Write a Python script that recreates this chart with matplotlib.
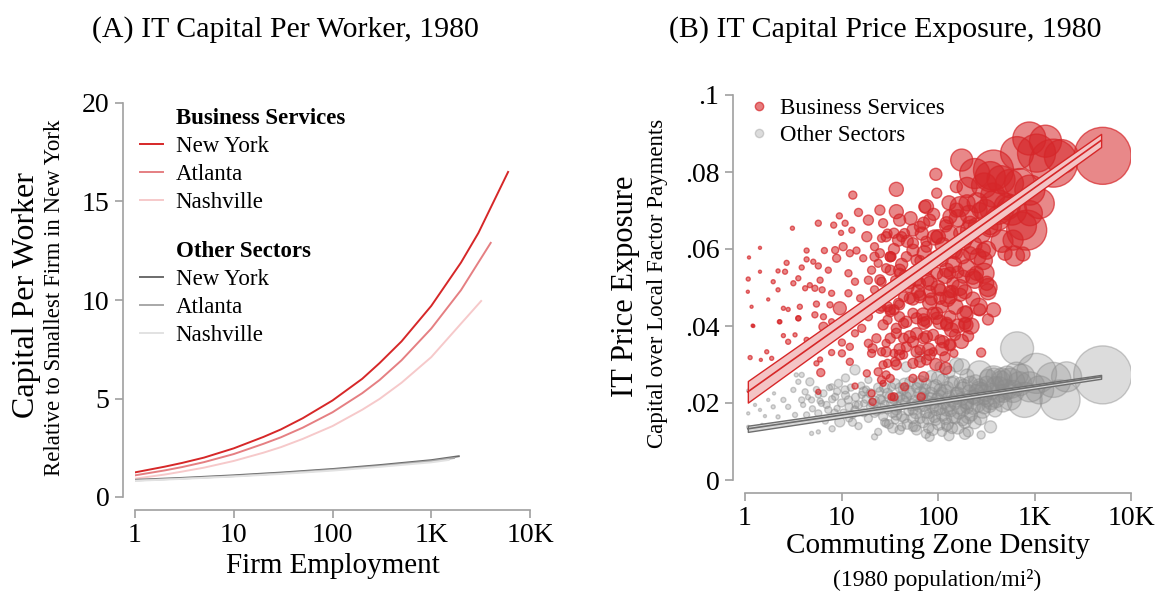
import numpy as np
import matplotlib
matplotlib.use("Agg")
import matplotlib.pyplot as plt
from matplotlib.lines import Line2D

plt.rcParams['font.family'] = ['Liberation Serif', 'DejaVu Serif']

# ---- Panel A: capital per worker by firm size ----
bs_ny_x = [1, 2, 3, 5, 10, 20, 30, 50, 100, 200, 300, 500, 1000, 2000, 3000, 6000]
bs_ny_y = [1.25, 1.54, 1.73, 2.0, 2.47, 3.05, 3.43, 4.0, 4.9, 6.0, 6.8, 7.9, 9.7, 11.9, 13.4, 16.5]
bs_atl_x = [1, 2, 3, 5, 10, 20, 30, 50, 100, 200, 300, 500, 1000, 2000, 4000]
bs_atl_y = [1.1, 1.35, 1.52, 1.77, 2.18, 2.7, 3.03, 3.52, 4.3, 5.27, 5.94, 6.94, 8.55, 10.5, 12.9]
bs_nash_x = [1, 2, 3, 5, 10, 20, 30, 50, 100, 200, 300, 500, 1000, 2000, 3200]
bs_nash_y = [0.93, 1.14, 1.29, 1.49, 1.83, 2.25, 2.53, 2.95, 3.6, 4.43, 4.98, 5.8, 7.1, 8.8, 9.95]
os_ny_x = [1, 3, 10, 30, 100, 300, 1000, 1900]
os_ny_y = [0.87, 0.97, 1.1, 1.24, 1.42, 1.62, 1.87, 2.07]
os_atl_x = [1, 3, 10, 30, 100, 300, 1000, 1700]
os_atl_y = [0.84, 0.94, 1.06, 1.2, 1.38, 1.57, 1.82, 1.98]
os_nash_x = [1, 3, 10, 30, 100, 300, 1000, 1500]
os_nash_y = [0.82, 0.92, 1.04, 1.17, 1.34, 1.53, 1.76, 1.88]

# ---- Panel B: IT price exposure by commuting zone density ----
bs_density = [3.1, 1.43, 1.1, 1.08, 1.07, 1.17, 1.2, 1.43, 1.74, 1.96, 2.2, 2.2, 2.6, 2.7, 2.5, 2.27, 2.8, 3.17,
              3.57, 3.87, 4.35, 4.35, 5.1, 4.7, 4.2, 3.57, 3.7, 5.3, 5.75, 6.65, 5.75, 8.3, 9.5, 10.9, 9.9, 12.8,
              13.1, 8.6, 8.9, 10.4, 12.2, 14.3, 16.8, 7.3, 6.0, 6.3, 7.9, 9.6, 7.6, 11.8, 13.8, 19, 11.8, 15.6,
              18.3, 19, 25, 15, 26, 22, 30, 39, 37, 37, 24, 20.5, 29, 33, 26, 36, 22, 33, 26, 39, 19, 30, 12.8,
              6.5, 5.5,
              1.22, 1.13, 1.46, 1.68, 1.89, 2.3, 2.5, 2.8, 3.3, 3.57, 4.35, 5.3, 6.5, 7.9, 6.2, 5.5, 6.0, 6.1,
              7.9, 10.1, 10.1, 12.2, 12.2, 13.8, 16.2, 18.3, 24, 19, 20.5, 26, 30, 26, 32, 36, 20.5, 21, 13.8,
              5.75, 33,
              884, 1570, 1050, 660, 376, 348, 240, 176, 407, 895, 830, 895, 580, 600, 620, 495, 320, 300,
              330, 376, 330, 270, 195, 190, 230, 190, 95, 97, 155, 170, 133, 76, 71, 101, 218, 143, 123, 83, 55,
              55, 40, 29, 32, 40, 60, 83, 105, 133, 65, 44, 35, 55, 89, 133, 44, 71, 1120, 760,
              195, 150, 205, 133, 146, 118, 280, 89, 76, 55, 44, 35, 27, 71, 55, 45, 35, 67, 27, 29, 32, 40,
              71, 97, 123, 37, 51, 76, 105, 29, 47, 65,
              150, 120, 180, 250, 200, 160, 110, 85, 110, 140, 230, 260, 75, 65, 90, 130, 45, 50, 200,
              300, 450, 200,
              73, 82, 65, 97, 123, 155, 170, 215, 270, 345, 295, 215, 155, 123, 97, 76, 55, 47, 60, 76, 97, 133,
              183, 250, 40, 32, 32, 25, 42, 35, 27, 51, 65, 143, 320,
              25, 32, 40, 51, 65, 82, 105, 133, 170, 27, 37, 47, 60, 76, 97, 123, 23, 32, 44, 55, 71, 89, 113,
              133, 21, 29, 40, 60, 82, 65, 37]
bs_exposure = [0.0654, 0.0603, 0.0578, 0.0522, 0.0489, 0.045, 0.0401, 0.0541, 0.0469, 0.0515, 0.0543, 0.0494,
               0.0541, 0.0564, 0.0446, 0.0411, 0.0443, 0.0511, 0.0524, 0.0552, 0.0573, 0.0596, 0.0567, 0.0506,
               0.0498, 0.042, 0.045, 0.0498, 0.0556, 0.0596, 0.0667, 0.0662, 0.0686, 0.0667, 0.0642, 0.0649,
               0.074, 0.0597, 0.0576, 0.0606, 0.0589, 0.0596, 0.0576, 0.0545, 0.0519, 0.0494, 0.0485, 0.0446,
               0.0455, 0.0537, 0.0515, 0.0519, 0.0485, 0.0472, 0.0632, 0.0675, 0.0701, 0.0695, 0.0628, 0.0606,
               0.064, 0.0623, 0.0697, 0.0755, 0.0563, 0.0545, 0.055, 0.058, 0.0515, 0.0519, 0.0494, 0.0485,
               0.045, 0.0459, 0.0424, 0.0416, 0.0416, 0.0424, 0.0457,
               0.04, 0.0318, 0.0312, 0.0333, 0.0316, 0.0411, 0.0375, 0.0359, 0.0377, 0.042, 0.0364, 0.0429,
               0.0398, 0.0411, 0.0355, 0.0303, 0.0313, 0.0279, 0.0331, 0.0357, 0.0329, 0.0307, 0.0346, 0.0381,
               0.0394, 0.0277, 0.0281, 0.0355, 0.0329, 0.0333, 0.0303, 0.026, 0.0264, 0.0307, 0.0225, 0.0203,
               0.0244, 0.0229, 0.0216,
               0.0887, 0.0823, 0.0849, 0.0849, 0.0805, 0.0788, 0.0796, 0.0831, 0.0709, 0.0753, 0.0649,
               0.0693, 0.0701, 0.0623, 0.0582, 0.0589, 0.0597, 0.0537, 0.0489, 0.0442, 0.0417, 0.0442, 0.0437,
               0.0407, 0.0528, 0.0489, 0.0794, 0.0745, 0.0762, 0.071, 0.0684, 0.071, 0.0667, 0.0632, 0.0649,
               0.0597, 0.0545, 0.0563, 0.0597, 0.0649, 0.0675, 0.0632, 0.058, 0.0545, 0.0519, 0.0511, 0.0494,
               0.0476, 0.0476, 0.0476, 0.0442, 0.0433, 0.0433, 0.0424, 0.0407, 0.0407, 0.0718, 0.0587,
               0.0403, 0.0377, 0.0374, 0.0351, 0.0329, 0.032, 0.0331, 0.0333, 0.0312, 0.0303, 0.0325, 0.0329,
               0.0299, 0.0268, 0.0264, 0.0242, 0.0216, 0.0216, 0.0251, 0.0273, 0.0442, 0.0424, 0.0416, 0.0433,
               0.0407, 0.0381, 0.0372, 0.0372, 0.0364, 0.0355, 0.0346, 0.0338,
               0.061, 0.066, 0.058, 0.066, 0.063, 0.054, 0.057, 0.047, 0.045, 0.049, 0.047, 0.058, 0.062,
               0.057, 0.069, 0.072, 0.064, 0.05, 0.072,
               0.0765, 0.078, 0.076,
               0.071, 0.0675, 0.0658, 0.0632, 0.0667, 0.0701, 0.0641, 0.0667, 0.0701, 0.0658, 0.0597, 0.0589,
               0.0589, 0.0589, 0.058, 0.0606, 0.0615, 0.058, 0.0571, 0.0545, 0.0537, 0.0537, 0.0528, 0.0537,
               0.0537, 0.0545, 0.058, 0.0589, 0.0632, 0.0641, 0.0667, 0.0511, 0.0511, 0.0511, 0.0511,
               0.0446, 0.0437, 0.0455, 0.0472, 0.0481, 0.0489, 0.0472, 0.0489, 0.0481, 0.0403, 0.0394, 0.0411,
               0.042, 0.0411, 0.042, 0.0403, 0.0368, 0.0368, 0.0368, 0.0359, 0.0368, 0.0377, 0.0359, 0.0351,
               0.0342, 0.0333, 0.0325, 0.0333, 0.0325, 0.0307, 0.0299]
bs_pop = [4, 3, 3, 4, 3, 3, 3, 3, 3, 4, 4, 4, 5, 5, 4, 4, 4, 5, 5, 5, 5, 5, 5, 5, 5, 5, 5, 6, 6, 6, 6, 6, 6, 6,
          5, 6, 8, 7, 8, 8, 7, 7, 7, 6, 6, 6, 6, 13, 6, 7, 7, 8, 7, 7, 10, 10, 10, 8, 8, 8, 9, 12, 14, 14, 8,
          8, 9, 9, 9, 9, 8, 9, 9, 10, 8, 9, 7, 6, 6,
          3, 4, 3, 4, 4, 4, 4, 5, 4, 5, 5, 6, 9, 6, 6, 5, 5, 8, 6, 7, 7, 7, 7, 7, 8, 7, 8, 8, 8, 8, 8, 8, 8,
          9, 7, 7, 6, 5, 7,
          33, 48, 38, 33, 40, 30, 30, 22, 35, 30, 40, 25, 30, 20, 20, 14, 18, 20, 16, 14, 11, 12, 12, 12, 15,
          14, 12, 10, 12, 20, 14, 14, 12, 14, 20, 16, 14, 12, 12, 12, 12, 10, 10, 12, 12, 14, 12, 14, 12, 10,
          10, 10, 12, 12, 10, 12, 30, 14,
          14, 11, 11, 10, 8, 10, 9, 8, 10, 10, 8, 8, 8, 10, 8, 8, 8, 8, 6, 8, 10, 10, 12, 12, 12, 10, 12, 12,
          10, 8, 10, 10,
          12, 12, 14, 16, 14, 12, 12, 12, 12, 12, 14, 16, 10, 10, 12, 14, 10, 10, 16,
          25, 28, 20,
          12, 12, 11, 12, 13, 14, 13, 14, 15, 16, 14, 13, 12, 12, 12, 11, 11, 10, 11, 11, 12, 12, 13, 14, 10,
          10, 10, 9, 10, 10, 9, 11, 11, 12, 14,
          10, 10, 10, 11, 11, 12, 12, 12, 13, 10, 10, 11, 11, 11, 12, 12, 9, 10, 10, 11, 11, 11, 12, 12, 9,
          10, 10, 11, 11, 11, 10]

# densest part of the business-services cloud and the largest zones
bs_core_density = [35, 42, 48, 52, 58, 62, 68, 72, 78, 82, 88, 92, 100, 105, 112, 118, 125, 132, 138, 145, 152,
                   160, 168, 175, 182, 190, 198, 210, 220, 230, 240, 255, 265, 280, 295, 310, 330, 350, 370,
                   420, 460, 520, 550, 700, 750, 1300, 1900, 60, 80, 95, 110, 40, 30, 25, 22, 120, 160, 70,
                   55, 45, 5090]
bs_core_exposure = [0.060, 0.056, 0.062, 0.068, 0.054, 0.049, 0.064, 0.059, 0.052, 0.046, 0.057, 0.063, 0.050,
                    0.041, 0.061, 0.053, 0.047, 0.064, 0.039, 0.056, 0.045, 0.068, 0.050, 0.036, 0.062, 0.043,
                    0.055, 0.069, 0.040, 0.061, 0.052, 0.072, 0.045, 0.064, 0.057, 0.070, 0.050, 0.066, 0.074,
                    0.068, 0.062, 0.071, 0.077, 0.077, 0.066, 0.088, 0.084, 0.038, 0.034, 0.030, 0.034, 0.034,
                    0.045, 0.052, 0.058, 0.029, 0.040, 0.043, 0.047, 0.053, 0.0842]
bs_core_pop = [11, 12, 12, 13, 12, 13, 13, 14, 13, 14, 14, 15, 14, 14, 15, 15, 15, 16, 14, 16, 15, 17, 16, 14,
               17, 16, 17, 18, 16, 18, 17, 20, 17, 19, 18, 22, 18, 22, 24, 24, 22, 26, 28, 30, 28, 32, 34,
               12, 12, 12, 13, 11, 10, 10, 9, 12, 14, 13, 12, 11, 57]

os_density = [1.08, 1.13, 1.08, 1.08, 1.27, 1.43, 1.61, 1.74, 1.96, 2.2, 2.5, 2.8, 3.17, 3.57, 3.87, 3.4, 4.7,
              4.2, 3.87, 4.9, 5.75, 6.2, 3.3, 4.35, 5.75, 7.3, 8.6, 9.3, 7.9, 9.6, 5.75, 4.9, 13.8, 10.9, 11.8,
              13.8, 16.2, 17.1, 22, 22, 26, 30, 36, 33, 39, 42, 19,
              1.5, 2.0, 2.3, 1.2, 3.0, 6.8, 8.0, 12, 15, 18, 11, 25, 28, 14, 20, 24, 9,
              660, 1840, 1050, 1570, 790, 560, 376, 270, 176, 105, 390, 350, 206, 280, 82, 122, 55, 40,
              29, 184, 122, 82, 55, 37, 230, 155, 105, 71, 47, 35, 170, 113, 76, 51, 47, 65, 155, 320, 270, 475,
              745, 1130, 895, 2150,
              60, 90, 140, 200, 95, 150, 65, 45, 250, 300, 130, 85, 60, 40, 450, 200, 110, 75, 180,
              4, 4.5, 5, 5.5, 6, 6.5, 7, 7.5, 8, 8.5, 9, 10, 10.5, 11, 12, 12.5, 13, 14, 15, 16, 17, 18, 19, 20,
              21, 23, 24, 25, 27, 28, 30, 31, 33, 34, 36, 38, 40, 42, 44, 46, 48, 50, 52, 55, 58, 60, 62, 65,
              68, 70, 73, 75, 78, 80, 85, 88, 92, 95, 98, 102, 106, 110, 115, 120, 125, 130, 135, 140, 145,
              150, 160, 165, 175, 185, 190, 200, 210, 220, 235, 245, 260, 275, 285, 300, 320, 340, 360, 380,
              400, 430, 470, 520, 600, 700]
os_exposure = [0.0232, 0.0216, 0.0173, 0.0138, 0.0195, 0.0182, 0.0166, 0.0208, 0.019, 0.0164, 0.0208, 0.019,
               0.0234, 0.0255, 0.0273, 0.0273, 0.0255, 0.0229, 0.0208, 0.0208, 0.0221, 0.0199, 0.0169, 0.0169,
               0.0173, 0.0182, 0.0216, 0.0251, 0.0242, 0.0151, 0.0125, 0.0121, 0.0286, 0.0234, 0.0208, 0.0182,
               0.0221, 0.0199, 0.0173, 0.0112, 0.0208, 0.0182, 0.0156, 0.0242, 0.0216, 0.0138, 0.026,
               0.0143, 0.0225, 0.0146, 0.0252, 0.0147, 0.0153, 0.0133, 0.016, 0.014, 0.0235, 0.0265, 0.023,
               0.015, 0.0195, 0.019, 0.0125, 0.0186,
               0.0342, 0.0208, 0.0277, 0.026, 0.0208, 0.0251, 0.026, 0.0277, 0.0294, 0.0294, 0.0182,
               0.0138, 0.0125, 0.0117, 0.0112, 0.0138, 0.0138, 0.013, 0.0147, 0.0182, 0.0182, 0.0173, 0.0182,
               0.0182, 0.0216, 0.0225, 0.0234, 0.0225, 0.0216, 0.0208, 0.0251, 0.026, 0.0251, 0.0255, 0.0294,
               0.032, 0.0299, 0.0208, 0.0242, 0.0225, 0.0268, 0.0234, 0.0242, 0.0268,
               0.0195, 0.02, 0.0205, 0.02, 0.0155, 0.016, 0.016, 0.016, 0.023, 0.019, 0.028, 0.027, 0.024,
               0.024, 0.026, 0.027, 0.0125, 0.012, 0.0155,
               0.0195, 0.0215, 0.0185, 0.0235, 0.0205, 0.0225, 0.0195, 0.024, 0.021, 0.0175, 0.023, 0.02,
               0.0175, 0.022, 0.019, 0.024, 0.017, 0.0215, 0.0195, 0.0245, 0.0175, 0.021, 0.016, 0.0225, 0.02,
               0.018, 0.024, 0.021, 0.0165, 0.0195, 0.0225, 0.0145, 0.02, 0.0175, 0.025, 0.019, 0.0215, 0.0165,
               0.0235, 0.02, 0.0145, 0.018, 0.0225, 0.016, 0.0205, 0.013, 0.025, 0.019, 0.0215, 0.015, 0.0235,
               0.0175, 0.0205, 0.0135, 0.0225, 0.019, 0.0165, 0.0245, 0.021, 0.0145, 0.0185, 0.0225, 0.02,
               0.016, 0.024, 0.0215, 0.018, 0.0135, 0.0255, 0.02, 0.0225, 0.0175, 0.021, 0.0245, 0.015, 0.019,
               0.023, 0.017, 0.0215, 0.0255, 0.0195, 0.016, 0.0235, 0.0215, 0.025, 0.0195, 0.023, 0.027, 0.021,
               0.0245, 0.02, 0.027, 0.023, 0.025]
os_pop = [3, 3, 3, 3, 3, 3, 3, 3, 4, 4, 5, 5, 5, 5, 5, 4, 8, 6, 6, 6, 6, 6, 5, 6, 7, 7, 7, 8, 6, 10, 4, 4, 10,
          8, 8, 8, 7, 7, 8, 6, 8, 8, 8, 8, 8, 8, 7,
          3, 3, 3, 3, 4, 6, 6, 7, 7, 7, 8, 8, 8, 7, 8, 7, 6,
          33, 40, 40, 35, 35, 30, 28, 25, 16, 10, 14, 12, 10, 8, 9, 9, 9, 9, 8, 12, 12, 10, 10, 10, 14, 12,
          12, 10, 10, 9, 12, 12, 10, 10, 10, 10, 14, 14, 16, 18, 25, 28, 30, 30,
          10, 11, 12, 13, 10, 11, 10, 9, 14, 14, 12, 11, 10, 9, 18, 14, 9, 9, 11,
          5, 5, 6, 6, 6, 7, 7, 6, 7, 7, 7, 8, 7, 8, 8, 7, 8, 8, 8, 7, 8, 8, 8, 9, 9, 9, 9, 9, 9, 9, 10, 9,
          10, 10, 10, 10, 10, 10, 10, 10, 10, 10, 11, 11, 11, 10, 11, 11, 11, 11, 11, 11, 11, 10, 12, 12,
          12, 12, 12, 12, 12, 12, 12, 12, 12, 12, 12, 11, 12, 13, 13, 13, 13, 13, 12, 13, 13, 13, 14, 14,
          14, 13, 14, 15, 15, 15, 16, 16, 17, 18, 18, 20, 22, 24]

# densest part of the other-sectors cloud and the largest zone
os_core_density = [22, 26, 32, 37, 43, 49, 54, 59, 66, 72, 79, 84, 90, 97, 104, 112, 118, 128, 137, 142, 155,
                   168, 180, 195, 205, 215, 230, 250, 265, 290, 310, 330, 355, 390, 420, 460, 510, 560, 650,
                   34, 58, 88, 125, 160, 240, 66, 100, 45, 28, 17, 13, 190, 130, 5090]
os_core_exposure = [0.0205, 0.0185, 0.0215, 0.0170, 0.0205, 0.0230, 0.0195, 0.0175, 0.0225, 0.0195, 0.0160,
                    0.0210, 0.0240, 0.0185, 0.0215, 0.0170, 0.0230, 0.0195, 0.0250, 0.0165, 0.0215, 0.0190,
                    0.0235, 0.0205, 0.0165, 0.0250, 0.0190, 0.0215, 0.0235, 0.0180, 0.0225, 0.0265, 0.0205,
                    0.0245, 0.0225, 0.0265, 0.0235, 0.0210, 0.0275, 0.0135, 0.0140, 0.0130, 0.0145, 0.0135,
                    0.0150, 0.0255, 0.0265, 0.0250, 0.0240, 0.0230, 0.0150, 0.0120, 0.0115, 0.0273]
os_core_pop = [10, 10, 11, 11, 12, 12, 12, 12, 13, 13, 12, 13, 13, 13, 14, 13, 14, 14, 14, 13, 14, 14, 15, 15,
               14, 15, 15, 16, 16, 15, 16, 17, 17, 18, 18, 20, 20, 22, 24, 10, 11, 11, 12, 12, 13, 12, 13,
               11, 10, 9, 8, 11, 10, 58]

# fitted lines (log-linear), read at their end points
bs_fit_x = [1.07, 4900]
bs_fit_y = [0.0229, 0.0882]
bs_fit_half = [0.0028, 0.0017]
os_fit_x = [1.07, 4900]
os_fit_y = [0.0133, 0.0268]
os_fit_half = [0.0008, 0.0005]

RED = '#d62728'
SPINE = '#a0a0a0'

fig = plt.figure(figsize=(11.56, 5.92), dpi=100)


def style_axes(ax, xticks, xlabels, yticks, ylabels, ybounds):
    for s in ['top', 'right']:
        ax.spines[s].set_visible(False)
    for s in ['left', 'bottom']:
        ax.spines[s].set_color(SPINE)
        ax.spines[s].set_linewidth(1.2)
        ax.spines[s].set_position(('outward', 9))
    ax.set_xscale('log')
    ax.set_xlim(1, 10000)
    ax.set_xticks(xticks)
    ax.set_xticklabels(xlabels)
    ax.minorticks_off()
    ax.set_yticks(yticks)
    ax.set_yticklabels(ylabels)
    ax.spines['left'].set_bounds(*ybounds)
    ax.spines['bottom'].set_bounds(1, 10000)
    ax.tick_params(axis='both', colors=SPINE, labelcolor='black', labelsize=20, length=6, width=1.2)
    ax.patch.set_alpha(0)


xt = [1, 10, 100, 1000, 10000]
xl = ['1', '10', '100', '1K', '10K']

# Panel A
axA = fig.add_axes([135 / 1156, 95 / 592, 395 / 1156, 394 / 592])
style_axes(axA, xt, xl, [0, 5, 10, 15, 20], ['0', '5', '10', '15', '20'], (0, 20))
axA.set_ylim(0, 20)
bs_lines = [
    axA.plot(bs_ny_x, bs_ny_y, color=RED, lw=1.4)[0],
    axA.plot(bs_atl_x, bs_atl_y, color='#e57f82', lw=1.4)[0],
    axA.plot(bs_nash_x, bs_nash_y, color='#f6c9ca', lw=1.4)[0],
]
os_lines = [
    axA.plot(os_ny_x, os_ny_y, color='#6b6b6b', lw=1.4)[0],
    axA.plot(os_atl_x, os_atl_y, color='#a8a8a8', lw=1.4)[0],
    axA.plot(os_nash_x, os_nash_y, color='#e2e2e2', lw=1.4)[0],
]
blank = Line2D([], [], color='none')
cities = ['New York', 'Atlanta', 'Nashville']
leg_kw = dict(loc='upper left', frameon=False, fontsize=16.5, handlelength=1.0,
              labelspacing=0.3, handletextpad=0.55, borderaxespad=0)
leg1 = axA.legend([blank] + bs_lines, ['Business Services'] + cities, bbox_to_anchor=(-0.01, 1.01), **leg_kw)
leg1.get_texts()[0].set_fontweight('bold')
axA.add_artist(leg1)
leg2 = axA.legend([blank] + os_lines, ['Other Sectors'] + cities, bbox_to_anchor=(-0.01, 0.672), **leg_kw)
leg2.get_texts()[0].set_fontweight('bold')

axA.set_xlabel('Firm Employment', fontsize=21, labelpad=4)
fig.text(27 / 1156, 1 - 295 / 592, 'Capital Per Worker', rotation=90, fontsize=23, ha='center', va='center')
fig.text(55 / 1156, 1 - 298 / 592, 'Relative to Smallest Firm in New York', rotation=90, fontsize=16.5,
         ha='center', va='center')
fig.text(285 / 1156, 1 - 30 / 592, '(A) IT Capital Per Worker, 1980', fontsize=21.5, ha='center', va='center')

# Panel B
axB = fig.add_axes([745 / 1156, 112 / 592, 386 / 1156, 385 / 592])
style_axes(axB, xt, xl, [0, 0.02, 0.04, 0.06, 0.08, 0.1], ['0', '.02', '.04', '.06', '.08', '.1'], (0, 0.1))
axB.set_ylim(0, 0.1)

os_x = os_density + os_core_density
os_y = os_exposure + os_core_exposure
os_s = (0.72 * np.array(os_pop + os_core_pop)) ** 2
bs_x = bs_density + bs_core_density
bs_y = bs_exposure + bs_core_exposure
bs_s = (0.72 * np.array(bs_pop + bs_core_pop)) ** 2
axB.scatter(os_x, os_y, s=os_s, facecolor=(0.55, 0.55, 0.55, 0.3),
            edgecolor=(0.55, 0.55, 0.55, 0.45), linewidth=1.0, zorder=2)
axB.scatter(bs_x, bs_y, s=bs_s, facecolor=(0.84, 0.15, 0.16, 0.55),
            edgecolor=(0.84, 0.15, 0.16, 0.7), linewidth=1.0, zorder=3)


def fit_band(ax, fx, fy, fh, fill, edge):
    lx = np.log10(fx)
    xs = np.logspace(lx[0], lx[1], 50)
    yc = np.interp(np.log10(xs), lx, fy)
    hw = np.interp(np.log10(xs), lx, fh)
    ax.fill_between(xs, yc - hw, yc + hw, facecolor=fill, edgecolor=edge, linewidth=1.0, zorder=4)
    ax.plot(xs, yc, color=edge, lw=1.2, zorder=5)


fit_band(axB, bs_fit_x, bs_fit_y, bs_fit_half, '#f4c4c5', RED)
fit_band(axB, os_fit_x, os_fit_y, os_fit_half, '#d8d8d8', '#6e6e6e')

handles = [Line2D([], [], marker='o', ls='none', markersize=6, markerfacecolor=(0.84, 0.15, 0.16, 0.6),
                  markeredgecolor=(0.84, 0.15, 0.16, 0.7)),
           Line2D([], [], marker='o', ls='none', markersize=6, markerfacecolor=(0.55, 0.55, 0.55, 0.3),
                  markeredgecolor=(0.55, 0.55, 0.55, 0.35))]
axB.legend(handles, ['Business Services', 'Other Sectors'], loc='upper left', bbox_to_anchor=(-0.022, 1.027),
           frameon=False, fontsize=16.5, handlelength=0.8, handletextpad=0.48, labelspacing=0.25,
           borderaxespad=0.2)

axB.set_xlabel('Commuting Zone Density', fontsize=21, labelpad=2)
fig.text(937 / 1156, 1 - 580 / 592, '(1980 population/mi²)', fontsize=17, ha='center', va='center')
fig.text(626 / 1156, 1 - 286 / 592, 'IT Price Exposure', rotation=90, fontsize=22, ha='center', va='center')
fig.text(657 / 1156, 1 - 283 / 592, 'Capital over Local Factor Payments', rotation=90, fontsize=16.5,
         ha='center', va='center')
fig.text(885 / 1156, 1 - 30 / 592, '(B) IT Capital Price Exposure, 1980', fontsize=21.5, ha='center',
         va='center')

fig.savefig('out.png', dpi=100)
